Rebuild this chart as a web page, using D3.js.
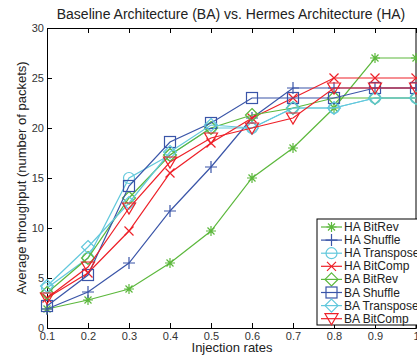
<!DOCTYPE html>
<html>
<head>
<meta charset="utf-8">
<script src="https://cdn.jsdelivr.net/npm/d3@7"></script>
<style>
  body { margin: 0; background: #fff; }
  svg { font-family: "Liberation Sans", Arial, sans-serif; }
</style>
</head>
<body>
<div id="chart"></div>
<script>
// Data
var rates = [0.1, 0.2, 0.3, 0.4, 0.5, 0.6, 0.7, 0.8, 0.9, 1];
var xTicks = [0.1, 0.2, 0.3, 0.4, 0.5, 0.6, 0.7, 0.8, 0.9, 1];
var yTicks = [0, 5, 10, 15, 20, 25, 30];

var haBitRev    = [1.9, 2.8, 3.9, 6.5, 9.7, 15, 18, 22, 27, 27];
var haShuffle   = [1.9, 3.6, 6.5, 11.7, 16.1, 21, 24, 24, 24, 24];
var haTranspose = [4, 7, 15, 17.3, 20, 20, 22, 22, 23, 23];
var haBitComp   = [3, 5.5, 9.7, 15.5, 18.5, 21, 23, 25, 25, 25];
var baBitRev    = [3.5, 7, 13, 17.3, 20, 21.3, 22, 23, 23, 23];
var baShuffle   = [2.2, 5.3, 14.2, 18.6, 20.5, 23, 23, 23, 24, 24];
var baTranspose = [4.2, 8.1, 12.5, 17.6, 20.3, 20, 22, 22, 23, 23];
var baBitComp   = [3, 6.1, 12, 16.6, 19, 20, 21, 24, 24, 24];

var seriesNames = ['HA BitRev', 'HA Shuffle', 'HA Transpose', 'HA BitComp',
                   'BA BitRev', 'BA Shuffle', 'BA Transpose', 'BA BitComp'];
var seriesValues = [haBitRev, haShuffle, haTranspose, haBitComp,
                    baBitRev, baShuffle, baTranspose, baBitComp];

var green = '#5cb83c', blue = '#3a55a8', cyan = '#62c8dc', red = '#ee2028';
var colors = [green, blue, cyan, red, green, blue, cyan, red];
var markers = ['asterisk', 'plus', 'circle', 'cross', 'diamond', 'square', 'diamond', 'triangle'];

var width = 417, height = 358;
var margin = {top: 28, right: 1, bottom: 30, left: 47};
var drawWidth = width - margin.left - margin.right;
var drawHeight = height - margin.top - margin.bottom;

var svg = d3.select('#chart').append('svg')
    .attr('width', width)
    .attr('height', height);

var xScale = d3.scaleLinear().domain([0.1, 1]).range([0, drawWidth]);
var yScale = d3.scaleLinear().domain([0, 30]).range([drawHeight, 0]);

var g = svg.append('g')
    .attr('transform', 'translate(' + margin.left + ',' + margin.top + ')');

// Title
svg.append('text')
    .attr('x', 231).attr('y', 19)
    .attr('text-anchor', 'middle')
    .attr('font-size', 14)
    .attr('fill', '#222')
    .text('Baseline Architecture (BA) vs. Hermes Architecture (HA)');

// Axes (MATLAB style: inward ticks, box)
var fmt = function(d) { return d === 1 ? '1' : d3.format('.1f')(d); };
var xAxis = d3.axisBottom(xScale).tickValues(xTicks).tickSize(-5).tickPadding(4).tickFormat(fmt);
var yAxis = d3.axisLeft(yScale).tickValues(yTicks).tickSize(-5).tickPadding(3);
var xTop = d3.axisTop(xScale).tickValues(xTicks).tickSize(-5).tickFormat('');

var gx = g.append('g').attr('transform', 'translate(0,' + drawHeight + ')').call(xAxis);
var gy = g.append('g').call(yAxis);
var gt = g.append('g').call(xTop);
[gx, gy, gt].forEach(function(a) {
    a.select('.domain').attr('stroke', '#000').attr('stroke-width', 1);
    a.selectAll('.tick line').attr('stroke', '#000');
    a.selectAll('.tick text').attr('font-size', 11).attr('fill', '#333')
        .attr('font-family', '"Liberation Sans", Arial, sans-serif');
});
g.append('line')
    .attr('x1', drawWidth).attr('x2', drawWidth)
    .attr('y1', 0).attr('y2', drawHeight)
    .attr('stroke', '#000');

// Axis titles
svg.append('text')
    .attr('x', 232).attr('y', 352)
    .attr('text-anchor', 'middle')
    .attr('font-size', 13)
    .attr('fill', '#222')
    .text('Injection rates');

svg.append('text')
    .attr('transform', 'translate(26,' + (margin.top + drawHeight / 2) + ') rotate(-90)')
    .attr('text-anchor', 'middle')
    .attr('font-size', 13)
    .attr('fill', '#222')
    .text('Average throughput (number of packets)');

// Marker drawing
function drawMarker(sel, type, color, cx, cy) {
    var m = sel.append('g').attr('transform', 'translate(' + cx + ',' + cy + ')')
        .attr('fill', 'none').attr('stroke', color).attr('stroke-width', 1.2);
    if (type === 'asterisk') {
        var r = 5;
        m.append('path').attr('d',
            'M' + -r + ',0L' + r + ',0M0,' + -r + 'L0,' + r +
            'M' + -r * 0.7 + ',' + -r * 0.7 + 'L' + r * 0.7 + ',' + r * 0.7 +
            'M' + -r * 0.7 + ',' + r * 0.7 + 'L' + r * 0.7 + ',' + -r * 0.7);
    } else if (type === 'plus') {
        m.append('path').attr('d', 'M-6,0L6,0M0,-6L0,6');
    } else if (type === 'cross') {
        m.append('path').attr('d', 'M-4.5,-4.5L4.5,4.5M-4.5,4.5L4.5,-4.5');
    } else if (type === 'circle') {
        m.append('circle').attr('r', 5.5);
    } else if (type === 'square') {
        m.append('rect').attr('x', -5.5).attr('y', -5.5).attr('width', 11).attr('height', 11);
    } else if (type === 'diamond') {
        m.append('path').attr('d', 'M0,-6.5L6.5,0L0,6.5L-6.5,0Z');
    } else if (type === 'triangle') {
        m.append('path').attr('d', 'M-6.5,-5L6.5,-5L0,6Z');
    }
}

var line = d3.line()
    .x(function(d, i) { return xScale(rates[i]); })
    .y(function(d) { return yScale(d); });

var plot = g.append('g');
seriesValues.forEach(function(vals, k) {
    plot.append('path')
        .attr('d', line(vals))
        .attr('fill', 'none')
        .attr('stroke', colors[k])
        .attr('stroke-width', 1.2);
    vals.forEach(function(v, i) {
        drawMarker(plot, markers[k], colors[k], xScale(rates[i]), yScale(v));
    });
});

// Legend
var legend = svg.append('g').attr('transform', 'translate(317,219)');
legend.append('rect')
    .attr('x', 0).attr('y', 0)
    .attr('width', 120).attr('height', 106)
    .attr('fill', '#fff').attr('stroke', '#000');
seriesNames.forEach(function(name, k) {
    var y = 8 + k * 13.1;
    legend.append('line')
        .attr('x1', 4).attr('x2', 25).attr('y1', y).attr('y2', y)
        .attr('stroke', colors[k]).attr('stroke-width', 1.2);
    drawMarker(legend, markers[k], colors[k], 14.5, y);
    legend.append('text')
        .attr('x', 27).attr('y', y + 4)
        .attr('font-size', 12)
        .attr('fill', '#222')
        .text(name);
});
</script>
</body>
</html>
